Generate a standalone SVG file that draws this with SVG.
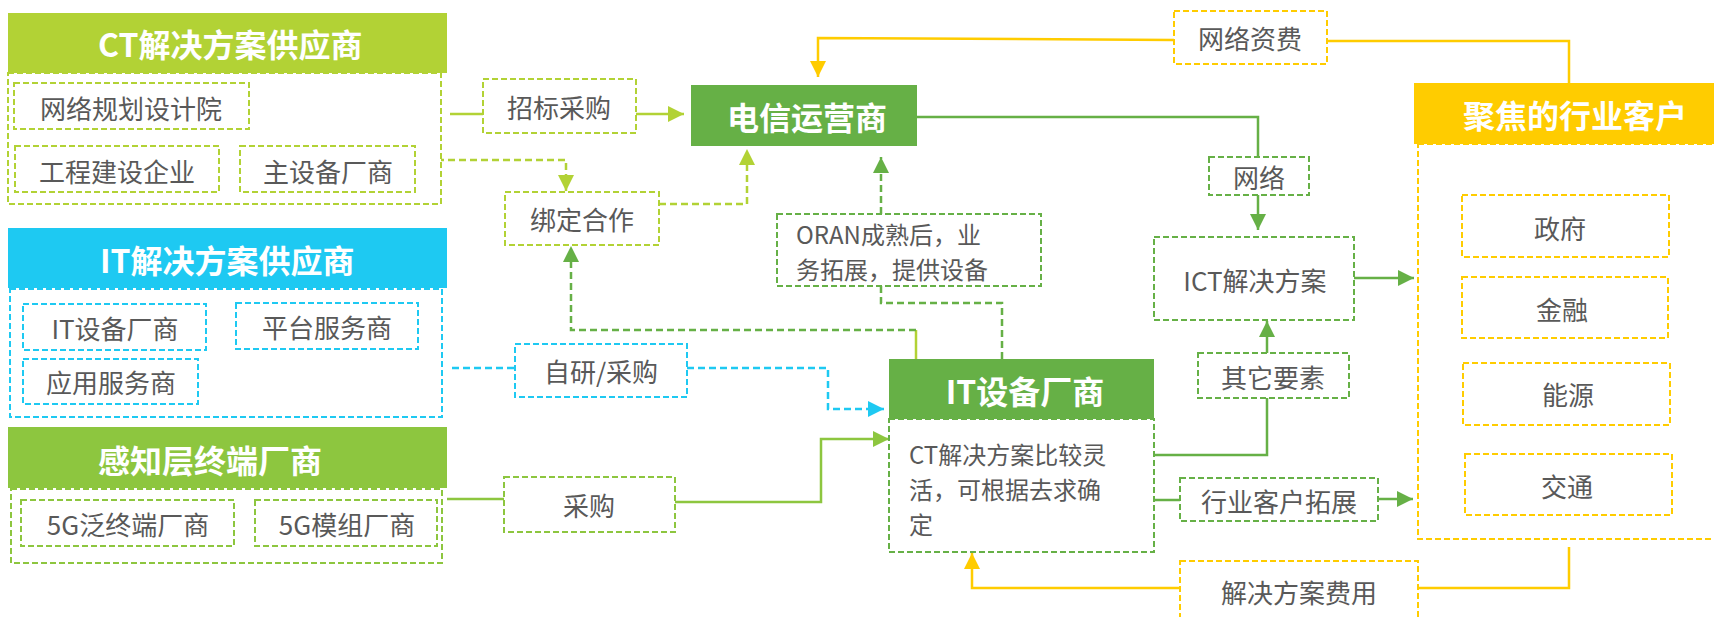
<svg xmlns="http://www.w3.org/2000/svg" width="1714" height="617" viewBox="0 0 1714 617">
<style>
text{font-family:"Noto Sans CJK SC","Liberation Sans",sans-serif;dominant-baseline:central}
.t{font-size:26px;fill:#595959}
.m{font-size:24px;fill:#595959}
.h{font-size:32px;font-weight:bold;fill:#ffffff}
.box{fill:#ffffff;stroke-width:2;stroke-dasharray:6 3}
.c{fill:none;stroke-width:2.5}
.d{fill:none;stroke-width:2.5;stroke-dasharray:7 4}
.yg{stroke:#b2d235}.lg{stroke:#8dc63f}.gr{stroke:#66b046}.cy{stroke:#1ec9f2}.ye{stroke:#ffcc00}
</style>
<defs>
<marker id="a-yg" markerUnits="userSpaceOnUse" markerWidth="16" markerHeight="16" refX="16" refY="8" orient="auto"><path d="M0,0 L16,8 L0,16 z" fill="#b2d235"/></marker>
<marker id="a-lg" markerUnits="userSpaceOnUse" markerWidth="16" markerHeight="16" refX="16" refY="8" orient="auto"><path d="M0,0 L16,8 L0,16 z" fill="#8dc63f"/></marker>
<marker id="a-gr" markerUnits="userSpaceOnUse" markerWidth="16" markerHeight="16" refX="16" refY="8" orient="auto"><path d="M0,0 L16,8 L0,16 z" fill="#66b046"/></marker>
<marker id="a-cy" markerUnits="userSpaceOnUse" markerWidth="16" markerHeight="16" refX="16" refY="8" orient="auto"><path d="M0,0 L16,8 L0,16 z" fill="#1ec9f2"/></marker>
<marker id="a-ye" markerUnits="userSpaceOnUse" markerWidth="16" markerHeight="16" refX="16" refY="8" orient="auto"><path d="M0,0 L16,8 L0,16 z" fill="#ffcc00"/></marker>
</defs>
<rect width="1714" height="617" fill="#ffffff"/>

<g id="connectors">
<path class="c yg" d="M450,114 H483"/>
<path class="c yg" d="M636,114 H684" marker-end="url(#a-yg)"/>
<path class="d yg" d="M415,160 H566 V191" marker-end="url(#a-yg)"/>
<path class="d yg" d="M659,204 H747 V149" marker-end="url(#a-yg)"/>
<path class="c ye" d="M1174,40 L818,38 V77" marker-end="url(#a-ye)"/>
<path class="c ye" d="M1569,83 V41 H1327"/>
<path class="c gr" d="M917,117 H1258 V157"/>
<path class="c gr" d="M1258,195 V230" marker-end="url(#a-gr)"/>
<path class="c gr" d="M1354,278 H1414" marker-end="url(#a-gr)"/>
<path class="c gr" d="M1154,455 H1267 V398"/>
<path class="c gr" d="M1267,353 V321" marker-end="url(#a-gr)"/>
<path class="c gr" d="M1154,500 H1180"/>
<path class="c gr" d="M1378,499 H1413" marker-end="url(#a-gr)"/>
<path class="c ye" d="M1569,547 V588 H1418"/>
<path class="c ye" d="M1180,588 H972 V553" marker-end="url(#a-ye)"/>
<path class="d cy" d="M452,368 H515"/>
<path class="d cy" d="M687,368 H828 V409 H884" marker-end="url(#a-cy)"/>
<path class="c lg" d="M447,499 H504"/>
<path class="c lg" d="M675,502 H821 V439 H889" marker-end="url(#a-lg)"/>
<path class="c yg" d="M916,359 V330"/>
<path class="d gr" d="M916,330 H571 V246" marker-end="url(#a-gr)" stroke-width="3"/>
<path class="d gr" d="M1002,359 V303 H881 V286"/>
<path class="d gr" d="M881,214 V157" marker-end="url(#a-gr)"/>
</g>

<g id="ct-group">
<rect class="box yg" x="8" y="73" width="433" height="131"/>
<rect x="8" y="13" width="439" height="60" fill="#b2d235"/>
<text class="h" x="98" y="43">CT解决方案供应商</text>
<g id="ct-design"><rect class="box yg" x="14" y="83" width="235" height="46"/><text class="t" x="131" y="107" text-anchor="middle">网络规划设计院</text></g>
<g id="ct-build"><rect class="box yg" x="15" y="146" width="204" height="46"/><text class="t" x="117" y="170" text-anchor="middle">工程建设企业</text></g>
<g id="ct-main"><rect class="box yg" x="240" y="146" width="175" height="46"/><text class="t" x="328" y="170" text-anchor="middle">主设备厂商</text></g>
</g>

<g id="it-group">
<rect class="box cy" x="10" y="289" width="432" height="128"/>
<rect x="8" y="228" width="439" height="60" fill="#1ec9f2"/>
<text class="h" x="100" y="259">IT解决方案供应商</text>
<g id="it-equip"><rect class="box cy" x="23" y="304" width="183" height="46"/><text class="t" x="115" y="327" text-anchor="middle">IT设备厂商</text></g>
<g id="it-platform"><rect class="box cy" x="236" y="303" width="182" height="46"/><text class="t" x="327" y="326" text-anchor="middle">平台服务商</text></g>
<g id="it-app"><rect class="box cy" x="23" y="359" width="175" height="45"/><text class="t" x="111" y="381" text-anchor="middle">应用服务商</text></g>
</g>

<g id="sense-group">
<rect class="box lg" x="11" y="489" width="431" height="74"/>
<rect x="8" y="427" width="439" height="61" fill="#8dc63f"/>
<text class="h" x="98" y="459">感知层终端厂商</text>
<g id="sense-term"><rect class="box lg" x="21" y="500" width="213" height="46"/><text class="t" x="128" y="523" text-anchor="middle">5G泛终端厂商</text></g>
<g id="sense-mod"><rect class="box lg" x="255" y="500" width="182" height="46"/><text class="t" x="347" y="523" text-anchor="middle">5G模组厂商</text></g>
</g>

<g id="bid"><rect class="box yg" x="483" y="79" width="153" height="54"/><text class="t" x="559" y="106" text-anchor="middle">招标采购</text></g>
<g id="bind"><rect class="box yg" x="505" y="192" width="154" height="53"/><text class="t" x="582" y="218" text-anchor="middle">绑定合作</text></g>
<g id="selfdev"><rect class="box cy" x="515" y="344" width="172" height="53"/><text class="t" x="601" y="370" text-anchor="middle">自研/采购</text></g>
<g id="purchase"><rect class="box lg" x="504" y="477" width="171" height="55"/><text class="t" x="589" y="504" text-anchor="middle">采购</text></g>

<g id="operator"><rect x="691" y="85" width="226" height="61" fill="#66b046"/><text class="h" x="807" y="116" text-anchor="middle">电信运营商</text></g>

<g id="oran"><rect class="box gr" x="777" y="214" width="264" height="72"/>
<text class="m" x="796" y="233">ORAN成熟后，业</text>
<text class="m" x="796" y="268">务拓展，提供设备</text></g>

<g id="it-vendor">
<rect class="box gr" x="889" y="419" width="265" height="133"/>
<rect x="889" y="359" width="265" height="60" fill="#66b046"/>
<text class="h" x="1025" y="390" text-anchor="middle">IT设备厂商</text>
<text class="m" x="909" y="453">CT解决方案比较灵</text>
<text class="m" x="909" y="488">活，可根据去求确</text>
<text class="m" x="909" y="523">定</text>
</g>

<g id="fee-net"><rect class="box ye" x="1174" y="11" width="153" height="53"/><text class="t" x="1250" y="37" text-anchor="middle">网络资费</text></g>
<g id="net"><rect class="box gr" x="1209" y="157" width="100" height="38"/><text class="t" x="1259" y="176" text-anchor="middle">网络</text></g>
<g id="ict"><rect class="box gr" x="1154" y="237" width="200" height="83"/><text class="t" x="1255" y="279" text-anchor="middle">ICT解决方案</text></g>
<g id="other"><rect class="box gr" x="1198" y="353" width="151" height="45"/><text class="t" x="1273" y="376" text-anchor="middle">其它要素</text></g>
<g id="expand"><rect class="box gr" x="1180" y="478" width="198" height="43"/><text class="t" x="1279" y="500" text-anchor="middle">行业客户拓展</text></g>
<g id="fee-sol"><rect class="box ye" x="1180" y="561" width="238" height="70"/><text class="t" x="1299" y="591" text-anchor="middle">解决方案费用</text></g>

<g id="customers">
<rect class="box ye" x="1418" y="144" width="300" height="395"/>
<rect x="1414" y="83" width="304" height="61" fill="#ffcc00"/>
<text class="h" x="1575" y="114" text-anchor="middle">聚焦的行业客户</text>
<g id="gov"><rect class="box ye" x="1462" y="195" width="207" height="62"/><text class="t" x="1560" y="227" text-anchor="middle">政府</text></g>
<g id="fin"><rect class="box ye" x="1462" y="277" width="206" height="61"/><text class="t" x="1562" y="308" text-anchor="middle">金融</text></g>
<g id="energy"><rect class="box ye" x="1463" y="363" width="207" height="62"/><text class="t" x="1568" y="393" text-anchor="middle">能源</text></g>
<g id="traffic"><rect class="box ye" x="1465" y="454" width="207" height="61"/><text class="t" x="1567" y="485" text-anchor="middle">交通</text></g>
</g>
</svg>
